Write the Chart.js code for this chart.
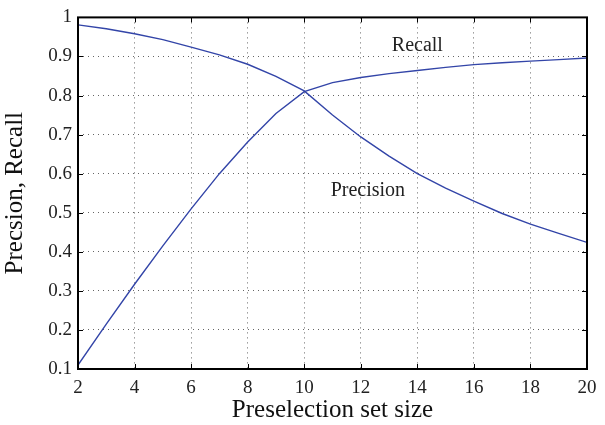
<!DOCTYPE html>
<html>
<head>
<meta charset="utf-8">
<script src="https://cdn.jsdelivr.net/npm/chart.js@4/dist/chart.umd.min.js"></script>
<style>
  html, body { margin: 0; padding: 0; background: #fff; }
  #wrap { width: 605px; height: 425px; }
</style>
</head>
<body>
<div id="wrap"><canvas id="chart" width="605" height="425"></canvas></div>
<script>
const setSize = [2, 3, 4, 5, 6, 7, 8, 9, 10, 11, 12, 13, 14, 15, 16, 17, 18, 19, 20];
const precision = [0.981, 0.971, 0.958, 0.943, 0.924, 0.904, 0.880, 0.849, 0.812, 0.750, 0.694, 0.645, 0.600, 0.563, 0.530, 0.498, 0.471, 0.447, 0.424];
const recall = [0.110, 0.215, 0.317, 0.415, 0.510, 0.600, 0.681, 0.754, 0.810, 0.833, 0.846, 0.856, 0.864, 0.872, 0.879, 0.884, 0.888, 0.892, 0.896];
const labels = [
    { text: 'Recall', x: 14.0, y: 0.928 },
    { text: 'Precision', x: 12.25, y: 0.557 }
];

const lineColor = '#3345a8';
const serif = '"Liberation Serif", "DejaVu Serif", serif';

function toPoints(ys) {
    return setSize.map((x, i) => ({ x: x, y: ys[i] }));
}

// box, inward ticks and text labels, drawn from the scales
const framePlugin = {
    id: 'frame',
    afterDraw(chart) {
        const ctx = chart.ctx;
        const a = chart.chartArea;
        const xs = chart.scales.x;
        const ys = chart.scales.y;
        ctx.save();
        ctx.strokeStyle = '#000';
        ctx.lineWidth = 1;
        xs.ticks.forEach(t => {
            const px = Math.round(xs.getPixelForValue(t.value)) + 0.5;
            ctx.beginPath();
            ctx.moveTo(px, a.bottom); ctx.lineTo(px, a.bottom - 5);
            ctx.moveTo(px, a.top); ctx.lineTo(px, a.top + 5);
            ctx.stroke();
        });
        ys.ticks.forEach(t => {
            const py = Math.round(ys.getPixelForValue(t.value)) + 0.5;
            ctx.beginPath();
            ctx.moveTo(a.left, py); ctx.lineTo(a.left + 5, py);
            ctx.moveTo(a.right, py); ctx.lineTo(a.right - 5, py);
            ctx.stroke();
        });
        ctx.lineWidth = 2;
        ctx.strokeRect(a.left, a.top, a.right - a.left, a.bottom - a.top);

        ctx.fillStyle = '#222';
        ctx.font = '20px ' + serif;
        ctx.textAlign = 'center';
        ctx.textBaseline = 'middle';
        labels.forEach(l => {
            ctx.fillText(l.text, xs.getPixelForValue(l.x), ys.getPixelForValue(l.y));
        });
        ctx.restore();
    }
};

const gridOpts = { color: '#666', drawTicks: false, lineWidth: 1 };

new Chart(document.getElementById('chart'), {
    type: 'line',
    data: {
        datasets: [
            { label: 'Precision', data: toPoints(precision), borderColor: lineColor, borderWidth: 1.4, pointRadius: 0, tension: 0 },
            { label: 'Recall', data: toPoints(recall), borderColor: lineColor, borderWidth: 1.4, pointRadius: 0, tension: 0 }
        ]
    },
    options: {
        responsive: false,
        animation: false,
        layout: { padding: { left: 0, right: 18, top: 17, bottom: 0 } },
        plugins: { legend: { display: false }, tooltip: { enabled: false } },
        scales: {
            x: {
                type: 'linear', min: 2, max: 20,
                ticks: { stepSize: 2, color: '#222', font: { family: serif, size: 19 }, padding: 8 },
                grid: gridOpts,
                border: { display: false, dash: [1, 4] },
                title: { display: true, text: 'Preselection set size', color: '#111', font: { family: serif, size: 25 }, padding: { top: 0, bottom: 0 } },
                afterFit(scale) { scale.height = 56; }
            },
            y: {
                min: 0.1, max: 1,
                ticks: {
                    stepSize: 0.1, color: '#222', font: { family: serif, size: 19 }, padding: 6,
                    callback: v => (Math.abs(v - 1) < 1e-9 ? '1' : v.toFixed(1))
                },
                grid: gridOpts,
                border: { display: false, dash: [1, 4] },
                title: { display: true, text: 'Precsion, Recall', color: '#111', font: { family: serif, size: 25 }, padding: { top: 0, bottom: 2 } },
                afterFit(scale) { scale.width = 78; }
            }
        }
    },
    plugins: [framePlugin]
});
</script>
</body>
</html>
